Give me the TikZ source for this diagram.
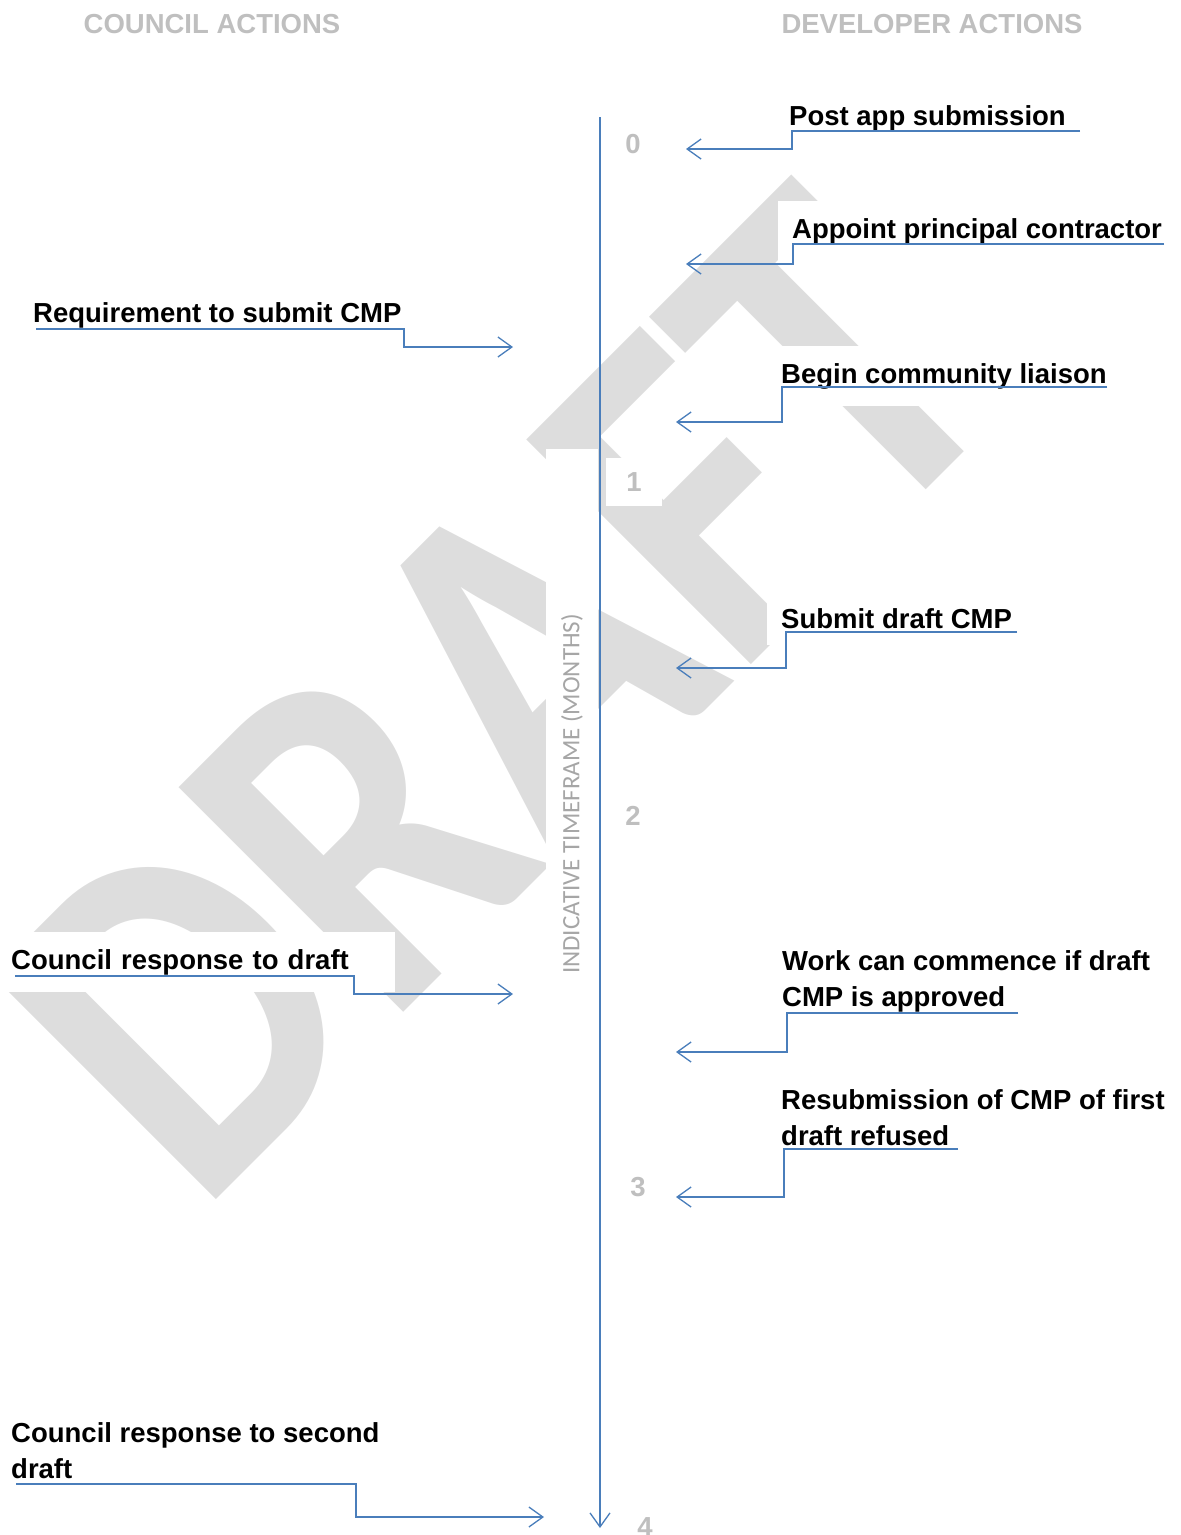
\documentclass[tikz,border=0pt]{standalone}
\usepackage{fontspec}
\setmainfont{Liberation Sans}
\newfontfamily\calfont{Carlito}
\usetikzlibrary{arrows.meta}
\definecolor{lineblue}{RGB}{74,126,187}
\definecolor{headgray}{RGB}{191,191,191}
\definecolor{axisgray}{RGB}{166,166,166}
\definecolor{markgray}{RGB}{221,221,221}
\newcommand\lblfont{\fontsize{27.5}{36}\selectfont\bfseries}

\begin{document}
\begin{tikzpicture}[x=1pt,y=-1pt,>={Straight Barb[length=14pt,width=20pt]},
  lbl/.style={fill=white,inner xsep=14pt,inner ysep=17pt,align=left,anchor=base west,font=\lblfont},
  hdr/.style={anchor=base,text=headgray,font=\lblfont},
  num/.style={fill=white,minimum width=56pt,minimum height=48pt,text=headgray,font=\lblfont},
  conn/.style={draw=lineblue,line width=1.3pt}]
\useasboundingbox (0,0) rectangle (1181,1535);
\node[rotate=45,xscale=0.86,anchor=base west,inner sep=0,text=markgray,
  font=\calfont\bfseries\fontsize{490}{490}\selectfont] (mark) at (199,1217) {DRAFT};
\node[hdr] (council) at (212,33) {COUNCIL ACTIONS};
\node[hdr] (developer) at (932,33) {DEVELOPER ACTIONS};
\node[rotate=90,fill=white,minimum width=690pt,minimum height=52pt,inner sep=0,text=axisgray,
  font=\calfont\fontsize{25}{30}\selectfont] (axis) at (572,794) {INDICATIVE TIMEFRAME (MONTHS)};
\node[num] (m0) at (633,144) {0};
\node[num] (m1) at (634,482) {1};
\node[num] (m2) at (633,816) {2};
\node[num] (m3) at (638,1187) {3};
\node[num] (m4) at (645,1527) {4};
\node[lbl] (post) at (775,125) {Post app submission};
\node[lbl] (appoint) at (778,238) {Appoint principal contractor};
\node[lbl] (liaise) at (767,383) {Begin community liaison};
\node[lbl] (submit) at (767,628) {Submit draft CMP};
\node[lbl] (work) at (768,1006) {Work can commence if draft\\CMP is approved};
\node[lbl] (resub) at (767,1145) {Resubmission of CMP of first\\draft refused};
\node[lbl] (require) at (19,322) {Requirement to submit CMP};
\node[lbl,text width=370pt] (response) at (-3,969) {Council response to draft};
\node[lbl] (response2) at (-3,1478) {Council response to second\\draft};
\coordinate (post-u) at (1080,131); \coordinate (post-t) at (686,149);
\coordinate (appoint-u) at (1164,244); \coordinate (appoint-t) at (686,264);
\coordinate (liaise-u) at (1107,387); \coordinate (liaise-t) at (676,422);
\coordinate (submit-u) at (1017,632); \coordinate (submit-t) at (676,668);
\coordinate (work-u) at (1018,1013); \coordinate (work-t) at (676,1052);
\coordinate (resub-u) at (958,1149); \coordinate (resub-t) at (676,1197);
\coordinate (require-u) at (36,329); \coordinate (require-t) at (513,347);
\coordinate (response-u) at (15,976); \coordinate (response-t) at (513,994);
\coordinate (response2-u) at (16,1484); \coordinate (response2-t) at (544,1517);
\draw[conn,->] (post-u) -- ++(-288,0) |- (post-t);
\draw[conn,->] (appoint-u) -- ++(-371,0) |- (appoint-t);
\draw[conn,->] (liaise-u) -- ++(-325,0) |- (liaise-t);
\draw[conn,->] (submit-u) -- ++(-231,0) |- (submit-t);
\draw[conn,->] (work-u) -- ++(-231,0) |- (work-t);
\draw[conn,->] (resub-u) -- ++(-174,0) |- (resub-t);
\draw[conn,->] (require-u) -- ++(368,0) |- (require-t);
\draw[conn,->] (response-u) -- ++(339,0) |- (response-t);
\draw[conn,->] (response2-u) -- ++(340,0) |- (response2-t);
\coordinate (tl-top) at (600,117); \coordinate (tl-end) at (600,1528);
\draw[conn,->] (tl-top) -- (tl-end);
\end{tikzpicture}
\end{document}
